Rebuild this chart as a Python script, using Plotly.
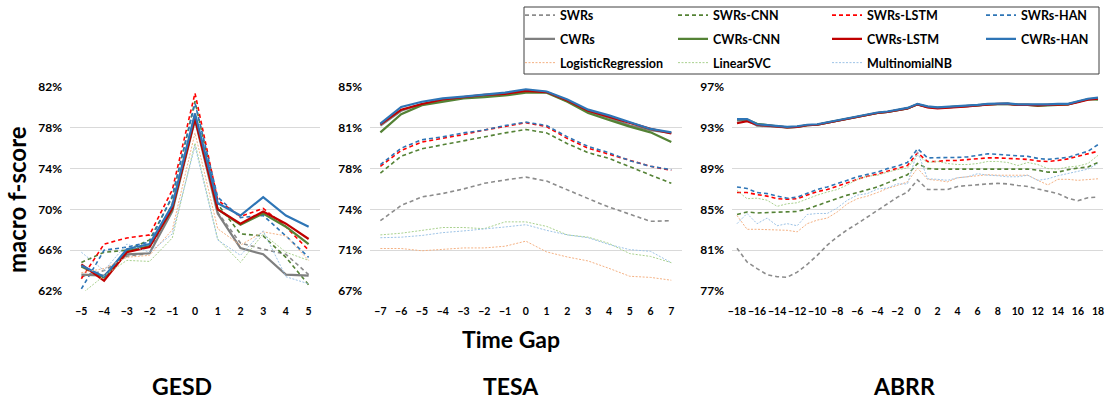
import plotly.graph_objects as go

# ---------------- data ----------------
GESD_GAPS = [-5, -4, -3, -2, -1, 0, 1, 2, 3, 4, 5]
TESA_GAPS = [-7, -6, -5, -4, -3, -2, -1, 0, 1, 2, 3, 4, 5, 6, 7]
ABRR_GAPS = list(range(-18, 19))

GESD_SWRs = [63.4, 64.0, 65.4, 65.7, 70.6, 79.4, 69.7, 66.7, 66.1, 65.6, 63.6]
GESD_SWRs_CNN = [64.8, 65.8, 66.0, 67.0, 71.2, 80.6, 70.5, 67.6, 67.4, 65.3, 62.6]
GESD_SWRs_LSTM = [63.2, 66.6, 67.2, 67.5, 71.9, 81.4, 70.9, 69.3, 70.1, 68.3, 66.0]
GESD_SWRs_HAN = [62.2, 66.0, 66.3, 66.8, 71.3, 80.4, 71.2, 69.2, 69.4, 67.4, 65.3]
GESD_CWRs = [63.6, 63.5, 65.6, 65.7, 69.8, 78.8, 69.6, 66.2, 65.6, 63.6, 63.5]
GESD_CWRs_CNN = [64.4, 63.3, 65.9, 66.4, 70.0, 79.0, 70.0, 68.5, 69.6, 68.3, 66.6]
GESD_CWRs_LSTM = [64.6, 63.0, 65.8, 66.3, 70.1, 78.9, 70.0, 68.6, 69.8, 68.6, 67.1]
GESD_CWRs_HAN = [64.5, 63.4, 66.1, 66.6, 70.4, 79.4, 70.6, 69.4, 71.2, 69.4, 68.3]
GESD_LogReg = [63.8, 64.2, 65.3, 65.5, 68.0, 77.5, 68.1, 66.5, 67.8, 67.4, 65.0]
GESD_LinearSVC = [61.7, 63.5, 65.0, 64.9, 67.2, 76.5, 67.1, 64.8, 67.6, 65.8, 65.0]
GESD_MNB = [65.8, 64.0, 66.6, 65.8, 67.6, 76.2, 67.0, 65.5, 67.9, 63.4, 62.7]

TESA_SWRs = [73.2, 74.55, 75.3, 75.6, 76.0, 76.5, 76.8, 77.05, 76.7, 75.9, 75.15, 74.4, 73.8, 73.15, 73.2]
TESA_SWRs_CNN = [77.4, 78.9, 79.55, 79.9, 80.3, 80.6, 80.95, 81.25, 80.95, 80.0, 79.2, 78.7, 77.95, 77.2, 76.5]
TESA_SWRs_LSTM = [78.0, 79.4, 80.15, 80.45, 80.8, 81.2, 81.55, 81.85, 81.5, 80.45, 79.6, 79.05, 78.5, 78.0, 77.65]
TESA_SWRs_HAN = [78.15, 79.6, 80.35, 80.6, 80.95, 81.2, 81.6, 81.9, 81.6, 80.6, 79.75, 79.2, 78.5, 78.0, 77.7]
TESA_CWRs = [81.6, 82.9, 83.5, 83.75, 84.05, 84.2, 84.4, 84.6, 84.55, 83.75, 82.85, 82.3, 81.6, 81.2, 80.95]
TESA_CWRs_CNN = [81.0, 82.6, 83.4, 83.7, 84.0, 84.1, 84.25, 84.5, 84.5, 83.7, 82.7, 82.1, 81.5, 81.0, 80.15]
TESA_CWRs_LSTM = [81.7, 83.0, 83.5, 83.9, 84.1, 84.3, 84.4, 84.65, 84.55, 83.8, 82.9, 82.35, 81.8, 81.3, 80.9]
TESA_CWRs_HAN = [81.76, 83.24, 83.7, 84.0, 84.15, 84.35, 84.5, 84.8, 84.6, 83.9, 83.0, 82.5, 81.9, 81.3, 81.0]
TESA_LogReg = [70.75, 70.75, 70.55, 70.7, 70.8, 70.8, 70.95, 71.4, 70.45, 70.0, 69.65, 69.0, 68.3, 68.2, 67.95]
TESA_LinearSVC = [71.95, 72.1, 72.35, 72.6, 72.6, 72.5, 73.1, 73.1, 72.7, 71.95, 71.75, 71.2, 70.3, 70.05, 69.5]
TESA_MNB = [71.7, 71.75, 71.9, 72.15, 72.3, 72.45, 72.65, 72.85, 72.35, 71.95, 71.7, 71.1, 70.65, 70.5, 69.5]

ABRR_SWRs = [81.2, 79.85, 79.2, 78.6, 78.4, 78.35, 78.85, 79.6, 80.5, 81.5, 82.3, 83.0, 83.6,
             84.25, 84.9, 85.55, 86.2, 86.7, 87.9, 86.95, 86.95, 86.95, 87.25, 87.35, 87.4,
             87.5, 87.55, 87.5, 87.35, 87.25, 87.0, 86.8, 86.55, 86.1, 85.85, 86.15, 86.2]
ABRR_SWRs_CNN = [84.5, 84.75, 84.65, 84.7, 84.75, 84.75, 84.8, 85.05, 85.4, 85.7, 86.05, 86.4, 86.65,
                 86.95, 87.2, 87.6, 88.0, 88.4, 89.5, 89.0, 88.95, 88.95, 88.95, 88.95, 89.0,
                 89.0, 88.95, 88.95, 88.95, 88.95, 88.85, 88.65, 88.65, 88.9, 89.05, 89.15, 89.6]
ABRR_SWRs_LSTM = [86.65, 86.65, 86.45, 86.3, 86.05, 86.0, 86.05, 86.4, 86.75, 86.95, 87.3, 87.6, 87.95,
                  88.25, 88.45, 88.75, 89.0, 89.3, 90.55, 89.7, 89.7, 89.8, 89.8, 89.9, 89.95,
                  90.05, 90.05, 90.0, 89.95, 89.9, 89.75, 89.7, 89.8, 89.95, 90.2, 90.45, 90.7]
ABRR_SWRs_HAN = [87.2, 87.05, 86.65, 86.55, 86.3, 86.1, 86.2, 86.55, 86.95, 87.2, 87.5, 87.85, 88.2,
                 88.45, 88.65, 89.0, 89.25, 89.6, 90.95, 90.05, 90.05, 90.05, 90.1, 90.15, 90.3,
                 90.45, 90.4, 90.3, 90.25, 90.2, 90.0, 89.9, 90.0, 90.1, 90.4, 90.7, 91.35]
ABRR_CWRs = [93.7, 93.75, 93.2, 93.15, 93.1, 93.05, 93.1, 93.25, 93.3, 93.5, 93.7, 93.9, 94.1,
             94.3, 94.45, 94.55, 94.7, 94.9, 95.3, 95.05, 94.95, 95.0, 95.05, 95.15, 95.2,
             95.3, 95.35, 95.35, 95.25, 95.25, 95.2, 95.25, 95.3, 95.3, 95.55, 95.8, 95.9]
ABRR_CWRs_CNN = [93.85, 93.8, 93.4, 93.25, 93.15, 93.05, 93.1, 93.25, 93.3, 93.5, 93.7, 93.9, 94.1,
                 94.3, 94.45, 94.55, 94.7, 94.9, 95.3, 95.05, 94.95, 95.0, 95.05, 95.15, 95.2,
                 95.3, 95.35, 95.35, 95.25, 95.25, 95.15, 95.2, 95.3, 95.3, 95.55, 95.8, 95.75]
ABRR_CWRs_LSTM = [93.45, 93.65, 93.3, 93.2, 93.15, 93.05, 93.1, 93.25, 93.3, 93.5, 93.7, 93.9, 94.1,
                  94.3, 94.45, 94.55, 94.7, 94.9, 95.3, 95.0, 94.9, 94.95, 95.05, 95.1, 95.2,
                  95.3, 95.35, 95.35, 95.25, 95.25, 95.2, 95.25, 95.3, 95.3, 95.5, 95.75, 95.85]
ABRR_CWRs_HAN = [93.85, 93.85, 93.35, 93.25, 93.2, 93.1, 93.15, 93.3, 93.35, 93.55, 93.75, 93.95, 94.15,
                 94.35, 94.5, 94.6, 94.75, 94.95, 95.35, 95.1, 95.0, 95.05, 95.1, 95.15, 95.25,
                 95.35, 95.4, 95.4, 95.3, 95.3, 95.25, 95.3, 95.35, 95.35, 95.6, 95.85, 95.95]
ABRR_LogReg = [84.4, 83.05, 83.05, 83.0, 82.95, 82.95, 82.8, 83.6, 83.95, 84.15, 84.75, 85.55, 86.05,
               86.3, 86.65, 87.05, 87.35, 87.7, 89.05, 87.95, 87.85, 87.7, 88.1, 88.2, 88.35,
               88.4, 88.35, 88.35, 88.3, 88.35, 87.85, 87.4, 87.95, 87.95, 87.85, 87.95, 88.0]
ABRR_LinearSVC = [86.85, 86.05, 86.1, 85.9, 85.3, 85.55, 85.65, 86.05, 86.4, 86.7, 86.95, 87.4, 87.95,
                  88.25, 88.35, 88.65, 88.9, 89.05, 90.3, 89.6, 89.7, 89.5, 89.4, 89.4, 89.5,
                  89.7, 89.7, 89.6, 89.3, 89.6, 89.4, 89.0, 88.95, 89.15, 89.25, 89.5, 90.3]
ABRR_MNB = [83.6, 84.6, 83.6, 84.15, 83.4, 83.6, 83.4, 84.5, 84.6, 84.6, 85.15, 85.9, 86.4,
            86.55, 87.0, 87.1, 87.5, 87.5, 90.7, 88.0, 87.95, 87.85, 88.1, 88.2, 88.5,
            88.35, 88.3, 88.2, 88.2, 88.35, 87.85, 88.0, 88.3, 88.5, 88.75, 88.95, 89.5]

SERIES_NAMES = ["SWRs", "SWRs-CNN", "SWRs-LSTM", "SWRs-HAN",
                "CWRs", "CWRs-CNN", "CWRs-LSTM", "CWRs-HAN",
                "LogisticRegression", "LinearSVC", "MultinomialNB"]

GESD_VALUES = [GESD_SWRs, GESD_SWRs_CNN, GESD_SWRs_LSTM, GESD_SWRs_HAN,
               GESD_CWRs, GESD_CWRs_CNN, GESD_CWRs_LSTM, GESD_CWRs_HAN,
               GESD_LogReg, GESD_LinearSVC, GESD_MNB]
TESA_VALUES = [TESA_SWRs, TESA_SWRs_CNN, TESA_SWRs_LSTM, TESA_SWRs_HAN,
               TESA_CWRs, TESA_CWRs_CNN, TESA_CWRs_LSTM, TESA_CWRs_HAN,
               TESA_LogReg, TESA_LinearSVC, TESA_MNB]
ABRR_VALUES = [ABRR_SWRs, ABRR_SWRs_CNN, ABRR_SWRs_LSTM, ABRR_SWRs_HAN,
               ABRR_CWRs, ABRR_CWRs_CNN, ABRR_CWRs_LSTM, ABRR_CWRs_HAN,
               ABRR_LogReg, ABRR_LinearSVC, ABRR_MNB]

GESD_TICKS = [62, 66, 70, 74, 78, 82]
TESA_TICKS = [67, 70.6, 74.2, 77.8, 81.4, 85]
ABRR_TICKS = [77, 81, 85, 89, 93, 97]

# ---------------- styles ----------------
STYLE = {
    "SWRs": dict(color="#8C8C8C", width=1.6, dash="4px,3px"),
    "SWRs-CNN": dict(color="#548235", width=1.6, dash="4px,3px"),
    "SWRs-LSTM": dict(color="#FF0000", width=1.6, dash="4px,3px"),
    "SWRs-HAN": dict(color="#2E75B6", width=1.6, dash="4px,3px"),
    "CWRs": dict(color="#7F7F7F", width=2.2, dash="solid"),
    "CWRs-CNN": dict(color="#548235", width=2.2, dash="solid"),
    "CWRs-LSTM": dict(color="#C00000", width=2.2, dash="solid"),
    "CWRs-HAN": dict(color="#2E75B6", width=2.2, dash="solid"),
    "LogisticRegression": dict(color="#F4B183", width=1, dash="2px,1.5px"),
    "LinearSVC": dict(color="#A9D18E", width=1, dash="2px,1.5px"),
    "MultinomialNB": dict(color="#9DC3E6", width=1, dash="2px,1.5px"),
}
LEGEND_OF = {
    "SWRs": "legend", "CWRs": "legend", "LogisticRegression": "legend",
    "SWRs-CNN": "legend2", "CWRs-CNN": "legend2", "LinearSVC": "legend2",
    "SWRs-LSTM": "legend3", "CWRs-LSTM": "legend3", "MultinomialNB": "legend3",
    "SWRs-HAN": "legend4", "CWRs-HAN": "legend4",
}

FONT = "Lato, 'Open Sans', Arial, sans-serif"
W, H = 1105, 399
MT = 87
MB = H - 291
PH = H - MT - MB

fig = go.Figure()
panels = [("x", "y", GESD_GAPS, GESD_VALUES),
          ("x2", "y2", TESA_GAPS, TESA_VALUES),
          ("x3", "y3", ABRR_GAPS, ABRR_VALUES)]
for pi, (xa, ya, gaps, values) in enumerate(panels):
    for name, vals in zip(SERIES_NAMES, values):
        fig.add_trace(go.Scatter(
            x=gaps, y=vals, mode="lines", name=name,
            line=STYLE[name], xaxis=xa, yaxis=ya,
            legendgroup=name, showlegend=(pi == 0), legend=LEGEND_OF[name],
        ))


def px_x(p):
    """page pixel x -> paper fraction"""
    return p / W


def px_y(p):
    """page pixel y -> paper fraction"""
    return (H - MB - p) / PH


tickfont_y = dict(family=FONT, size=12, color="#000000", weight="bold")
tickfont_x = dict(family=FONT, size=10.5, color="#000000", weight="bold")

common_y = dict(showgrid=True, gridcolor="#D9D9D9", gridwidth=1.3, zeroline=False,
                showline=False, ticks="", tickfont=tickfont_y, ticklabelstandoff=7,
                fixedrange=True)
common_x = dict(showgrid=False, zeroline=False, showline=False, ticks="",
                tickfont=tickfont_x, tickangle=0, ticklabelstandoff=12, fixedrange=True)

fig.update_layout(
    width=W, height=H,
    margin=dict(l=0, r=0, t=MT, b=MB, autoexpand=False),
    paper_bgcolor="white", plot_bgcolor="white",
    font=dict(family=FONT, color="#000000"),
    xaxis=dict(domain=[px_x(70), px_x(320)], range=[-5.5, 5.5], tickvals=GESD_GAPS,
               anchor="y", **common_x),
    yaxis=dict(domain=[0, 1], range=[62, 82], tickvals=GESD_TICKS,
               ticktext=[f"{t:.0f}%" for t in GESD_TICKS], anchor="x", **common_y),
    xaxis2=dict(domain=[px_x(370), px_x(681.7)], range=[-7.5, 7.5], tickvals=TESA_GAPS,
                anchor="y2", **common_x),
    yaxis2=dict(domain=[0, 1], range=[67, 85], tickvals=TESA_TICKS,
                ticktext=[f"{t:.0f}%" for t in TESA_TICKS], anchor="x2", **common_y),
    xaxis3=dict(domain=[px_x(732), px_x(1103)], range=[-18.5, 18.5],
                tickvals=ABRR_GAPS[::2], anchor="y3", **common_x),
    yaxis3=dict(domain=[0, 1], range=[77, 97], tickvals=ABRR_TICKS,
                ticktext=[f"{t:.0f}%" for t in ABRR_TICKS], anchor="x3", **common_y),
)

legend_font = dict(family=FONT, size=12.5, color="#000000", weight="bold")
legend_common = dict(orientation="v", xref="container", yref="container",
                     xanchor="left", yanchor="top", bgcolor="rgba(0,0,0,0)",
                     borderwidth=0, font=legend_font, traceorder="grouped",
                     tracegroupgap=4.5, itemwidth=30, itemclick=False,
                     itemdoubleclick=False)
legend_y = 1 - 0.5 / H
fig.update_layout(
    legend=dict(x=520 / W, y=legend_y, **legend_common),
    legend2=dict(x=673 / W, y=legend_y, **legend_common),
    legend3=dict(x=827 / W, y=legend_y, **legend_common),
    legend4=dict(x=981 / W, y=legend_y, **legend_common),
)

# legend frame
fig.add_shape(type="rect", xref="paper", yref="paper",
              x0=px_x(524), x1=px_x(1099), y0=px_y(74), y1=px_y(7),
              line=dict(color="#404040", width=1), fillcolor="rgba(0,0,0,0)", layer="below")

ann_font = dict(family=FONT, size=23, color="#000000", weight="bold")
fig.add_annotation(text="macro f-score", xref="paper", yref="paper",
                   x=px_x(16), y=px_y(200), textangle=-90, showarrow=False,
                   xanchor="center", yanchor="middle",
                   font=dict(family=FONT, size=24, color="#000000", weight="bold"))
fig.add_annotation(text="Time Gap", xref="paper", yref="paper",
                   x=px_x(511), y=px_y(339), showarrow=False,
                   xanchor="center", yanchor="middle", font=ann_font)
for label, cx in [("GESD", 182), ("TESA", 511), ("ABRR", 904)]:
    fig.add_annotation(text=label, xref="paper", yref="paper",
                       x=px_x(cx), y=px_y(386), showarrow=False,
                       xanchor="center", yanchor="middle", font=ann_font)

fig.write_html("out.html", config={"displayModeBar": False},
               post_script="document.body.style.margin='0px';"
                           "document.body.style.overflow='hidden';")
